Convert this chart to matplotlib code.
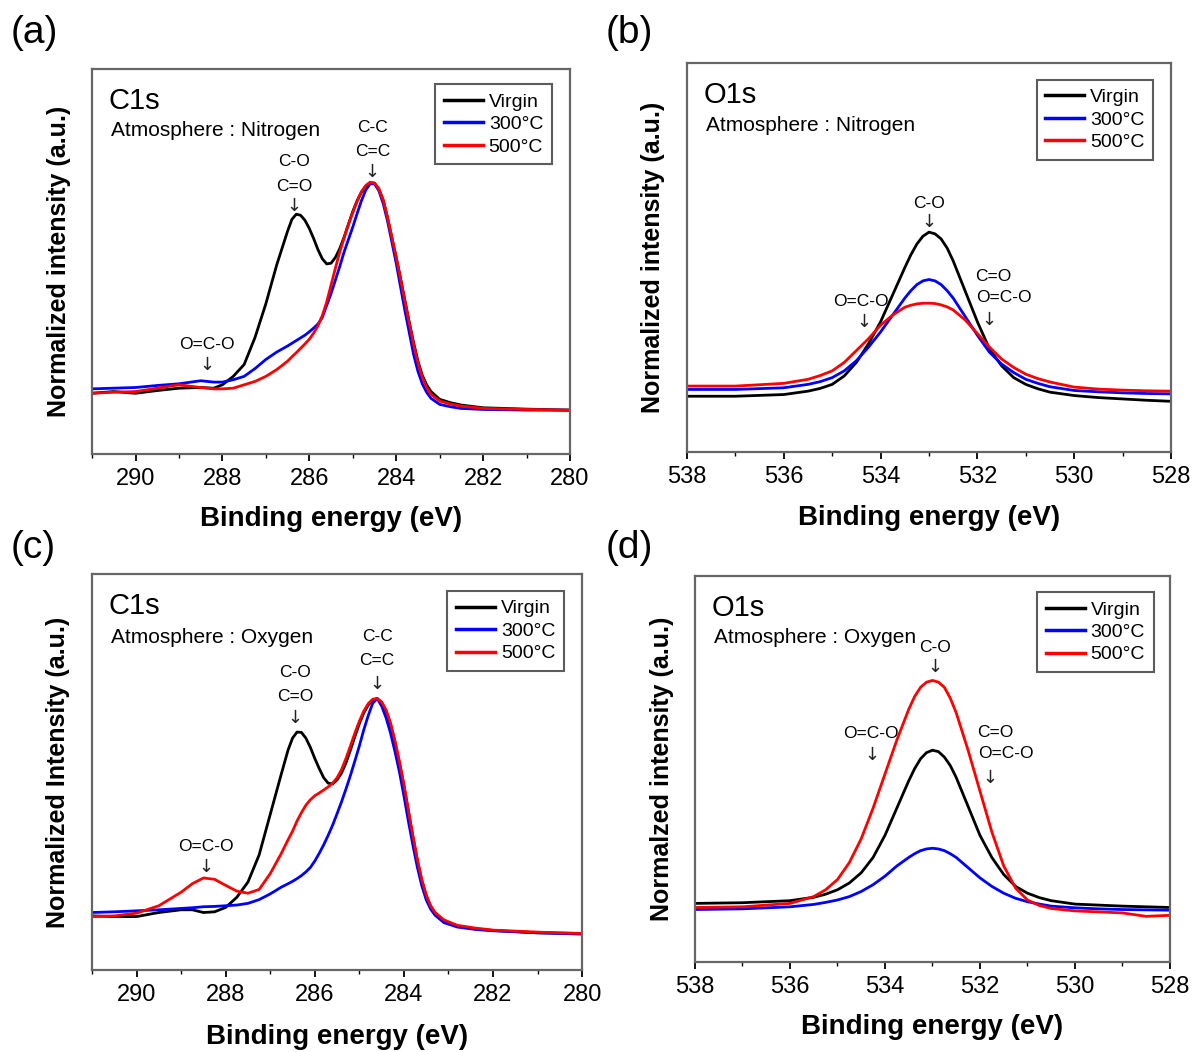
import matplotlib
matplotlib.use("Agg")
import matplotlib.pyplot as plt
from matplotlib.ticker import MultipleLocator

plt.rcParams['font.family'] = ['Liberation Sans', 'DejaVu Sans']

# ---------------- data (intensity in a.u.) ----------------
series_labels = ["Virgin", "300\u00b0C", "500\u00b0C"]
series_colors = ["#000000", "#0000ff", "#ff0000"]

# (a) C1s, nitrogen
x_a = [291, 290.5, 290, 289.5, 289, 288.5, 288.2, 288, 287.75, 287.5, 287.25, 287, 286.75, 286.5,
       286.4, 286.3, 286.2, 286.1, 286.0, 285.9, 285.8, 285.7, 285.6, 285.5, 285.4, 285.3, 285.2,
       285.1, 285.0, 284.9, 284.8, 284.7, 284.6, 284.5, 284.4, 284.3, 284.2, 284.1, 284.0, 283.9,
       283.8, 283.7, 283.6, 283.5, 283.4, 283.3, 283.2, 283.0, 282.75, 282.5, 282, 281, 280]
virgin_a = [180, 185, 180, 188, 195, 197, 195, 205, 230, 265, 345, 445, 560, 660,
            695, 710, 707, 692, 668, 638, 605, 578, 563, 565, 582, 608, 642,
            680, 718, 750, 775, 793, 803, 802, 785, 752, 700, 640, 582, 520,
            455, 390, 330, 275, 233, 205, 185, 162, 152, 145, 137, 133, 130]
t300_a = [193, 195, 197, 203, 208, 217, 213, 213, 220, 230, 253, 280, 302, 320,
          328, 336, 344, 352, 362, 373, 385, 405, 440, 475, 515, 555, 598,
          635, 672, 712, 750, 782, 800, 800, 780, 742, 690, 628, 565, 495,
          425, 360, 295, 245, 208, 183, 165, 147, 140, 135, 132, 130, 130]
t500_a = [180, 183, 185, 195, 205, 197, 193, 193, 195, 205, 215, 230, 250, 275,
          288, 300, 313, 326, 340, 358, 380, 410, 450, 500, 550, 598, 640,
          680, 715, 748, 777, 795, 805, 802, 785, 752, 700, 642, 582, 518,
          452, 388, 325, 270, 228, 197, 177, 157, 148, 142, 135, 132, 130]

# (b) O1s, nitrogen
x_b = [538, 537, 536, 535.5, 535.25, 535, 534.75, 534.5, 534.25, 534, 533.75, 533.5, 533.375,
       533.25, 533.125, 533, 532.875, 532.75, 532.625, 532.5, 532.25, 532, 531.75, 531.5,
       531.25, 531, 530.75, 530.5, 530, 529.5, 529, 528.5, 528]
virgin_b = [165, 165, 170, 180, 188, 200, 225, 265, 320, 385, 465, 545, 583,
            615, 638, 650, 645, 630, 603, 565, 475, 385, 305, 255,
            220, 200, 187, 177, 167, 161, 157, 153, 150]
t300_b = [185, 185, 190, 200, 208, 220, 240, 270, 310, 355, 405, 455, 477,
          495, 506, 510, 506, 495, 477, 455, 400, 345, 295, 260,
          235, 215, 203, 193, 182, 178, 175, 173, 172]
t500_b = [195, 195, 203, 215, 226, 240, 265, 300, 335, 375, 405, 428, 434,
          438, 440, 440, 439, 435, 429, 420, 390, 350, 310, 275,
          250, 230, 217, 207, 192, 186, 183, 181, 180]

# (c) C1s, oxygen
x_c = [291, 290.5, 290, 289.5, 289, 288.75, 288.5, 288.25, 288, 287.75, 287.5, 287.25, 287,
       286.75, 286.6, 286.5, 286.4, 286.3, 286.2, 286.1, 286.0, 285.9, 285.8, 285.7, 285.6,
       285.5, 285.4, 285.3, 285.2, 285.1, 285.0, 284.9, 284.8, 284.7, 284.6, 284.5, 284.4,
       284.3, 284.2, 284.1, 284.0, 283.9, 283.8, 283.7, 283.6, 283.5, 283.4, 283.3, 283.1,
       282.8, 282.4, 282, 281, 280]
virgin_c = [160, 158, 158, 170, 178, 178, 170, 172, 185, 215, 260, 340, 460,
            580, 650, 685, 703, 702, 685, 658, 625, 595, 568, 552, 550,
            562, 582, 612, 650, 690, 728, 760, 783, 798, 802, 790, 765,
            725, 672, 612, 545, 470, 395, 325, 265, 220, 188, 168, 145,
            130, 122, 117, 110, 108]
t300_c = [170, 172, 175, 178, 182, 184, 187, 188, 190, 192, 197, 208, 225,
          245, 255, 262, 270, 279, 290, 303, 322, 345, 370, 398, 428,
          462, 497, 535, 575, 618, 662, 710, 752, 788, 802, 780, 745,
          700, 645, 585, 515, 440, 370, 305, 250, 208, 180, 162, 140,
          127, 120, 116, 110, 106]
t500_c = [158, 160, 168, 190, 230, 255, 272, 268, 250, 233, 227, 238, 285,
          345, 385, 410, 440, 465, 487, 503, 515, 523, 532, 541, 552,
          568, 592, 625, 662, 700, 735, 765, 787, 800, 802, 792, 768,
          730, 677, 615, 548, 472, 398, 328, 268, 222, 190, 170, 148,
          132, 124, 118, 112, 108]

# (d) O1s, oxygen
x_d = [538, 537, 536, 535.5, 535.25, 535, 534.75, 534.5, 534.25, 534, 533.75, 533.5, 533.375,
       533.25, 533.125, 533, 532.875, 532.75, 532.625, 532.5, 532.25, 532, 531.75, 531.5,
       531.25, 531, 530.75, 530.5, 530, 529.5, 529, 528.5, 528]
virgin_d = [172, 174, 180, 190, 199, 212, 232, 262, 307, 372, 452, 532, 568,
            597, 615, 622, 618, 602, 577, 542, 457, 372, 307, 257,
            222, 202, 189, 180, 170, 167, 164, 162, 160]
t300_d = [154, 156, 162, 169, 175, 182, 192, 207, 227, 252, 282, 307, 318,
          327, 332, 334, 332, 327, 318, 307, 277, 247, 222, 202,
          187, 177, 170, 164, 159, 156, 154, 153, 152]
t500_d = [160, 162, 172, 192, 212, 242, 292, 362, 452, 552, 652, 742, 780,
          807, 822, 827, 822, 807, 775, 732, 622, 502, 382, 282,
          217, 182, 166, 157, 150, 147, 144, 134, 137]

c1s_ticks = [290, 288, 286, 284, 282, 280]
o1s_ticks = [538, 536, 534, 532, 530, 528]

# ---------------- figure ----------------
fig = plt.figure(figsize=(11.97, 10.52), dpi=100)

ARROW = "\u2193"
panels = [
    dict(rect=[0.0769, 0.5684, 0.3993, 0.3660], letter="(a)", lpos=(11, 33),
         x=x_a, ys=[virgin_a, t300_a, t500_a], xlim=(291, 280), ymax=1140, ticks=c1s_ticks,
         core="C1s", atm="Atmosphere : Nitrogen", ylabel="Normalized intensity (a.u.)",
         leg=(0.962, 0.960),
         ann=[("C-C", 284.55, 967), ("C=C", 284.55, 895), (ARROW, 284.55, 835),
              ("C-O", 286.35, 865), ("C=O", 286.35, 792), (ARROW, 286.35, 735),
              ("O=C-O", 288.35, 325), (ARROW, 288.35, 265)]),
    dict(rect=[0.5739, 0.5703, 0.4044, 0.3698], letter="(b)", lpos=(606, 33),
         x=x_b, ys=[virgin_b, t300_b, t500_b], xlim=(538, 528), ymax=1150, ticks=o1s_ticks,
         core="O1s", atm="Atmosphere : Nitrogen", ylabel="Normalized intensity (a.u.)",
         leg=(0.963, 0.957),
         ann=[("C-O", 533.0, 735), (ARROW, 533.0, 680),
              ("O=C-O", 534.4, 445), (ARROW, 534.35, 385),
              ("C=O", 531.68, 520), ("O=C-O", 531.45, 457), (ARROW, 531.76, 390)]),
    dict(rect=[0.0769, 0.0779, 0.4094, 0.3765], letter="(c)", lpos=(11, 548),
         x=x_c, ys=[virgin_c, t300_c, t500_c], xlim=(291, 280), ymax=1170, ticks=c1s_ticks,
         core="C1s", atm="Atmosphere : Oxygen", ylabel="Normalized Intensity (a.u.)",
         leg=(0.963, 0.957),
         ann=[("C-C", 284.6, 985), ("C=C", 284.6, 915), (ARROW, 284.6, 845),
              ("C-O", 286.45, 880), ("C=O", 286.45, 808), (ARROW, 286.45, 745),
              ("O=C-O", 288.45, 365), (ARROW, 288.45, 305)]),
    dict(rect=[0.5806, 0.0856, 0.3968, 0.3669], letter="(d)", lpos=(606, 548),
         x=x_d, ys=[virgin_d, t300_d, t500_d], xlim=(538, 528), ymax=1134, ticks=o1s_ticks,
         core="O1s", atm="Atmosphere : Oxygen", ylabel="Normalzed intensity (a.u.)",
         leg=(0.966, 0.958),
         ann=[("C-O", 532.94, 924), (ARROW, 532.94, 867),
              ("O=C-O", 534.3, 672), (ARROW, 534.27, 607),
              ("C=O", 531.68, 674), ("O=C-O", 531.46, 612), (ARROW, 531.78, 542)]),
]

W, H = 1197, 1052
for p in panels:
    ax = fig.add_axes(p["rect"])
    for y, lab, col in zip(p["ys"], series_labels, series_colors):
        ax.plot(p["x"], y, color=col, lw=2.0, label=lab, solid_joinstyle='round')
    ax.set_xlim(*p["xlim"])
    ax.set_ylim(0, p["ymax"])
    ax.set_yticks([])
    ax.set_xticks(p["ticks"])
    ax.xaxis.set_minor_locator(MultipleLocator(1))
    ax.tick_params(axis='x', which='major', direction='out', length=5, width=1.3,
                   labelsize=17, pad=5, top=False)
    ax.tick_params(axis='x', which='minor', direction='out', length=3, width=1.0, top=False)
    for s in ax.spines.values():
        s.set_color('#666666')
        s.set_linewidth(1.6)
    ax.set_xlabel("Binding energy (eV)", fontsize=20, fontweight='bold')
    ax.xaxis.set_label_coords(0.5, -0.135)
    ax.set_ylabel(p["ylabel"], fontsize=18, fontweight='bold')
    ax.yaxis.set_label_coords(-0.045, 0.5)
    ax.text(0.034, 0.918, p["core"], transform=ax.transAxes, fontsize=21,
            ha='left', va='center')
    ax.text(0.039, 0.840, p["atm"], transform=ax.transAxes, fontsize=15,
            ha='left', va='center')
    for t, xx, yy in p["ann"]:
        if t == ARROW:
            ax.text(xx, yy, t, fontsize=13, ha='center', va='center',
                    family=['DejaVu Sans'], color='#222222')
        else:
            ax.text(xx, yy, t, fontsize=12.5, ha='center', va='center')
    leg = ax.legend(loc='upper right', bbox_to_anchor=p["leg"], borderaxespad=0,
                    fontsize=14, frameon=True, fancybox=False, edgecolor='#333333',
                    handlelength=2.0, handletextpad=0.3, labelspacing=0.25,
                    borderpad=0.45)
    leg.get_frame().set_linewidth(1.5)
    for ln in leg.get_lines():
        ln.set_linewidth(2.5)
    fig.text(p["lpos"][0] / W, 1 - p["lpos"][1] / H, p["letter"], fontsize=28,
             ha='left', va='center')

fig.savefig("out.png", dpi=100)
